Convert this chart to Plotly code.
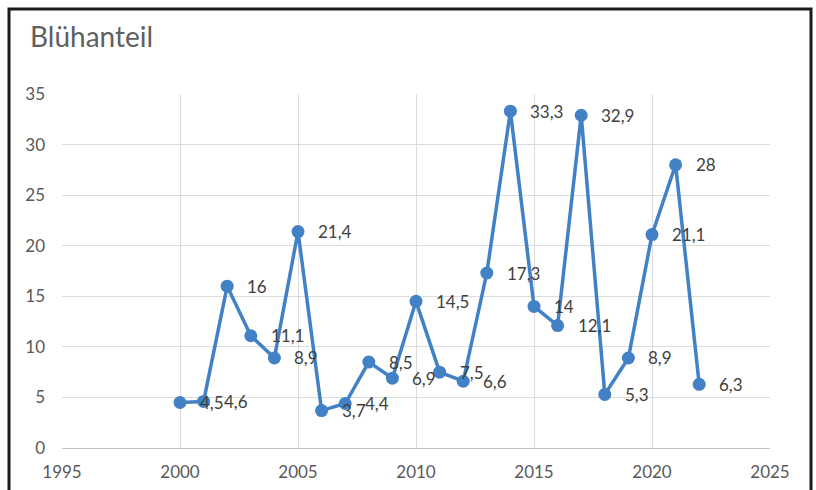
import plotly.graph_objects as go

# Blühanteil per year
years = [2000, 2001, 2002, 2003, 2004, 2005, 2006, 2007, 2008, 2009, 2010,
         2011, 2012, 2013, 2014, 2015, 2016, 2017, 2018, 2019, 2020, 2021, 2022]
values = [4.5, 4.6, 16, 11.1, 8.9, 21.4, 3.7, 4.4, 8.5, 6.9, 14.5,
          7.5, 6.6, 17.3, 33.3, 14, 12.1, 32.9, 5.3, 8.9, 21.1, 28, 6.3]

title_text = "Blühanteil"
x_range = [1995, 2025]
y_range = [0, 35]

line_color = "#4281c6"
text_color = "#404040"
tick_color = "#595959"
grid_color = "#dcdcdc"
font_family = "Lato, 'Open Sans', sans-serif"

W, H = 816, 490
L, R, T, B = 62, 46, 94, 42

fig = go.Figure()
fig.add_trace(go.Scatter(
    x=years, y=values, mode="lines+markers",
    line=dict(color=line_color, width=3.5),
    marker=dict(color=line_color, size=13),
    hoverinfo="x+y", showlegend=False,
))

# value labels to the right of each point, decimal comma
for x, v in zip(years, values):
    fig.add_annotation(
        x=x, y=v, xref="x", yref="y",
        text=f"{v:g}".replace(".", ","),
        showarrow=False, xanchor="left", yanchor="middle",
        xshift=18, font=dict(size=17, color=text_color, family=font_family),
    )

# chart frame
pw, ph = W - L - R, H - T - B
fig.add_shape(
    type="rect", xref="paper", yref="paper",
    x0=(9 - L) / pw, x1=(W - 5 - L) / pw,
    y0=(H - B - (H + 5)) / ph, y1=(H - B - 9) / ph,
    line=dict(color="#1a1a1a", width=3), fillcolor="rgba(0,0,0,0)",
    layer="above",
)

fig.update_layout(
    width=W, height=H,
    margin=dict(l=L, r=R, t=T, b=B, autoexpand=False),
    paper_bgcolor="white", plot_bgcolor="white",
    font=dict(family=font_family, color=tick_color),
    title=dict(text=title_text, x=30 / W, xanchor="left",
               y=1 - 37 / H, yanchor="middle",
               font=dict(size=28, color="#606060", family=font_family)),
    xaxis=dict(range=x_range, dtick=5, tick0=1995, showgrid=True,
               gridcolor=grid_color, gridwidth=1, zeroline=False,
               showline=True, linecolor="#bfbfbf", linewidth=1,
               ticks="", ticklabelstandoff=9, automargin=False,
               tickfont=dict(size=17, color=tick_color),
               fixedrange=True),
    yaxis=dict(range=y_range, dtick=5, showgrid=True, gridcolor=grid_color,
               gridwidth=1, zeroline=False, showline=False, ticks="",
               ticklabelstandoff=16, automargin=False,
               tickfont=dict(size=17, color=tick_color),
               fixedrange=True),
)

fig.write_html("out.html")
